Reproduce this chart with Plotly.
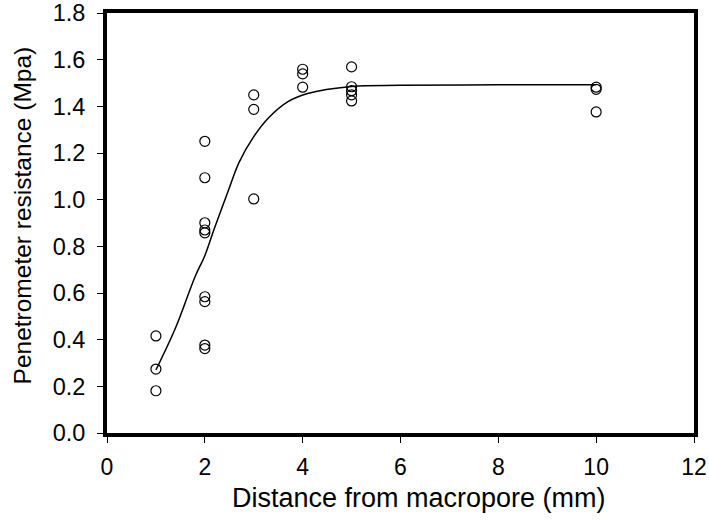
import plotly.graph_objects as go

# Observed data
obs_x = [1, 1, 1,
         2, 2, 2, 2, 2, 2, 2, 2, 2,
         3, 3, 3,
         4, 4, 4,
         5, 5, 5, 5, 5,
         10, 10, 10]
obs_y = [0.416, 0.274, 0.181,
         1.250, 1.094, 0.901, 0.870, 0.858, 0.584, 0.563, 0.377, 0.362,
         1.449, 1.387, 1.003,
         1.559, 1.539, 1.482,
         1.569, 1.484, 1.467, 1.449, 1.423,
         1.482, 1.473, 1.376]

# Fitted curve
fit_x = [1.0, 1.4, 1.8, 2.0, 2.2, 2.5, 2.7, 3.0, 3.3, 3.7, 4.1, 5.0, 6.0, 8.0, 10.0]
fit_y = [0.27, 0.45, 0.67, 0.76, 0.88, 1.05, 1.16, 1.27, 1.35, 1.42, 1.455, 1.485, 1.49, 1.492, 1.493]

x_ticks = [0, 2, 4, 6, 8, 10, 12]
y_ticks = [0.0, 0.2, 0.4, 0.6, 0.8, 1.0, 1.2, 1.4, 1.6, 1.8]

x_title = "Distance from macropore (mm)"
y_title = "Penetrometer resistance (Mpa)"

font = "Liberation Sans, Arial, sans-serif"

fig = go.Figure()
fig.add_trace(go.Scatter(x=fit_x, y=fit_y, mode="lines",
                         line=dict(color="black", width=1.5, shape="spline", smoothing=1.0),
                         hoverinfo="skip", showlegend=False))
fig.add_trace(go.Scatter(x=obs_x, y=obs_y, mode="markers",
                         marker=dict(symbol="circle-open", size=10, color="black",
                                     line=dict(width=1.2, color="black")),
                         showlegend=False))

fig.update_layout(
    width=709, height=521,
    margin=dict(l=107, r=15, t=13, b=88),
    paper_bgcolor="white", plot_bgcolor="white",
    font=dict(family=font, size=23, color="black"),
    xaxis=dict(range=[0, 12], tickvals=x_ticks, ticktext=[str(v) for v in x_ticks],
               automargin=False, ticklabeloverflow="allow",
               showgrid=False, zeroline=False,
               showline=True, linewidth=4, linecolor="black", mirror=True,
               ticks="outside", ticklen=6, tickwidth=1, tickcolor="black",
               ticklabelstandoff=4, tickfont=dict(size=23)),
    yaxis=dict(range=[0, 1.8], tickvals=y_ticks, ticktext=[f"{v:.1f}" for v in y_ticks],
               automargin=False, ticklabeloverflow="allow",
               showgrid=False, zeroline=False,
               showline=True, linewidth=4, linecolor="black", mirror=True,
               ticks="outside", ticklen=6, tickwidth=1, tickcolor="black",
               ticklabelstandoff=7, tickfont=dict(size=23.5)),
    annotations=[
        dict(text=x_title, xref="paper", yref="paper", x=0.5307, y=-0.1548,
             xanchor="center", yanchor="middle", showarrow=False,
             font=dict(size=27, family=font, color="black")),
        dict(text=y_title, xref="paper", yref="paper", x=-0.1448, y=0.518,
             xanchor="center", yanchor="middle", showarrow=False, textangle=-90,
             font=dict(size=24.5, family=font, color="black")),
    ],
)

fig.write_html("out.html", config={"displayModeBar": False},
               post_script="document.body.style.margin='0';document.body.style.overflow='hidden';")
